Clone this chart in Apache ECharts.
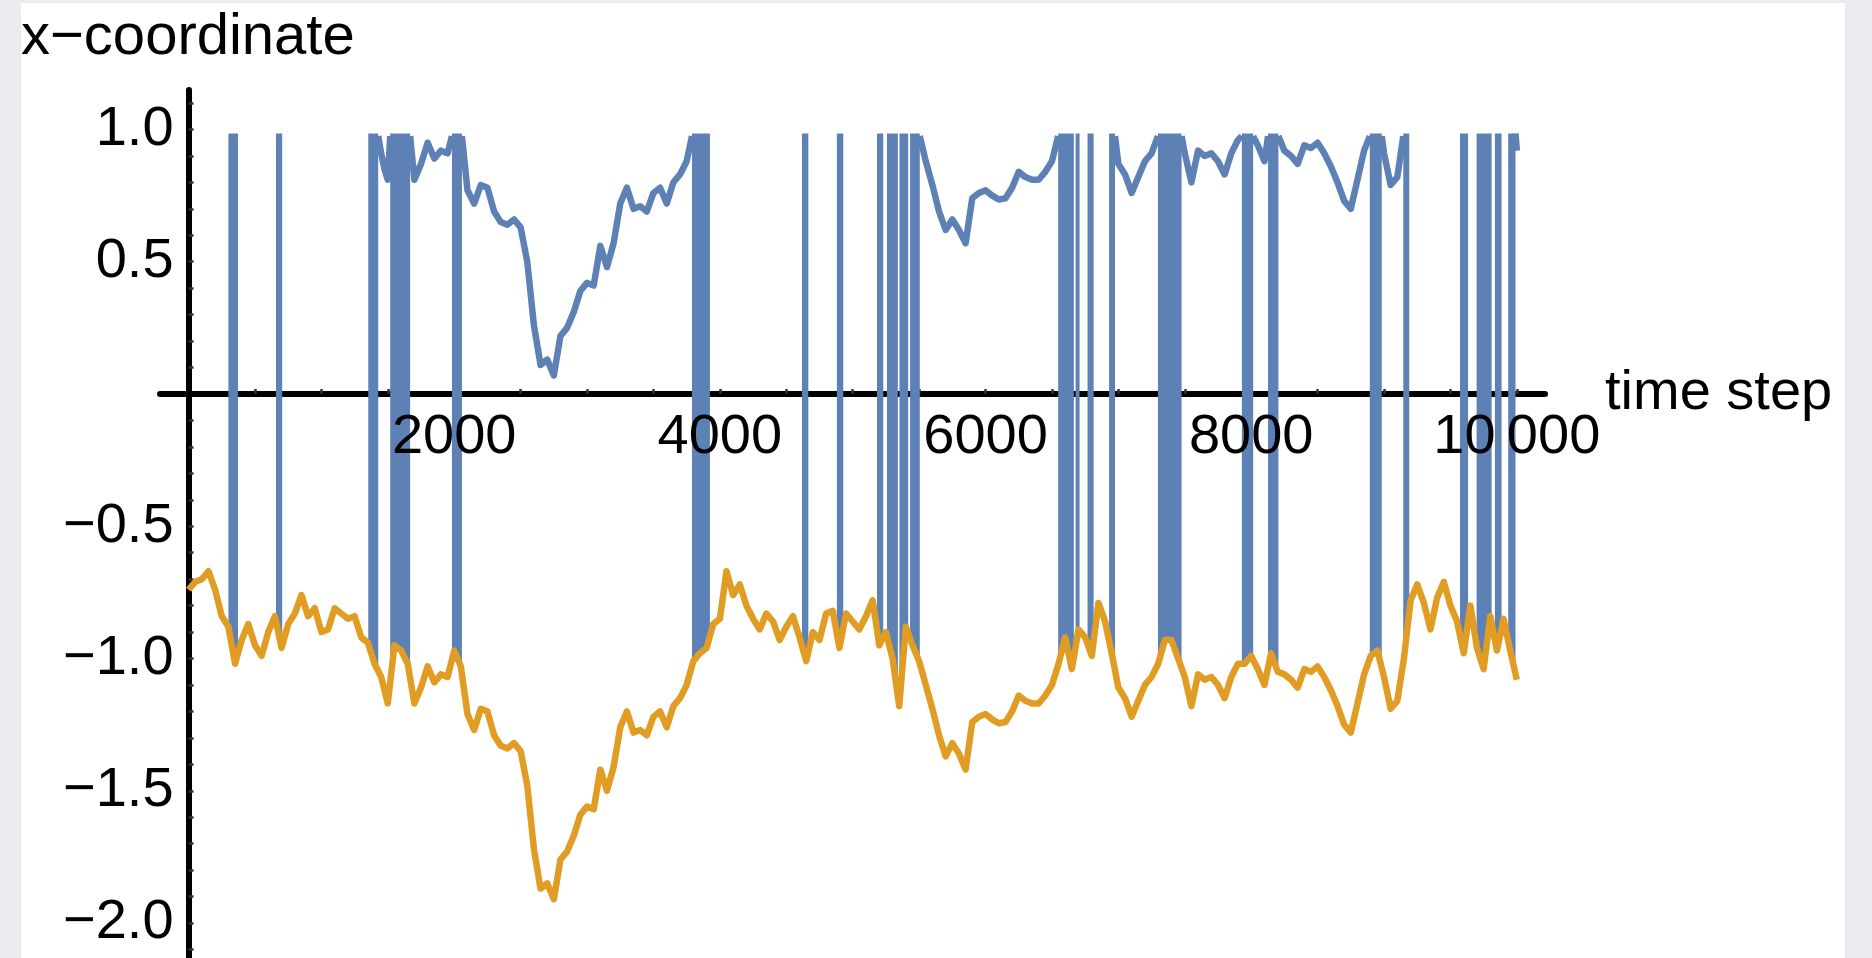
<!DOCTYPE html>
<html>
<head>
<meta charset="utf-8">
<script src="https://cdn.jsdelivr.net/npm/echarts@6/dist/echarts.min.js"></script>
<style>
  html, body { margin: 0; padding: 0; width: 1872px; height: 958px; overflow: hidden; background: #e9ebee; }
  #sheet { position: absolute; left: 21px; top: 3px; width: 1824px; height: 955px; background: #ffffff; }
  #chart { position: absolute; left: 0; top: 0; width: 1872px; height: 958px; }
</style>
</head>
<body>
<div id="sheet"></div>
<div id="chart"></div>
<script>
// Trajectory sampled every STEP time steps (t = 0, 50, ..., 10000)
const STEP = 50;

// Unwrapped x-coordinate (orange), one row per 500 steps
const orangeX = [
  -0.74, -0.71, -0.70, -0.67, -0.74, -0.84, -0.88, -1.02, -0.93, -0.87,
  -0.95, -0.99, -0.90, -0.84, -0.96, -0.87, -0.83, -0.76, -0.84, -0.81,
  -0.90, -0.89, -0.81, -0.83, -0.85, -0.84, -0.92, -0.94, -1.02, -1.07,
  -1.17, -0.95, -0.97, -1.02, -1.17, -1.11, -1.03, -1.09, -1.06, -1.07,
  -0.97, -1.03, -1.21, -1.27, -1.19, -1.20, -1.29, -1.33, -1.34, -1.32,
  -1.35, -1.48, -1.72, -1.87, -1.85, -1.91, -1.76, -1.73, -1.67, -1.59,
  -1.56, -1.57, -1.42, -1.50, -1.41, -1.26, -1.20, -1.28, -1.27, -1.29,
  -1.22, -1.20, -1.26, -1.18, -1.15, -1.10, -1.01, -0.98, -0.96, -0.87,
  -0.85, -0.67, -0.76, -0.72, -0.80, -0.85, -0.89, -0.83, -0.86, -0.93,
  -0.88, -0.84, -0.92, -1.01, -0.90, -0.93, -0.83, -0.82, -0.96, -0.83,
  -0.86, -0.89, -0.84, -0.78, -0.95, -0.90, -1.00, -1.18, -0.88, -0.95,
  -1.01, -1.10, -1.19, -1.29, -1.37, -1.32, -1.36, -1.42, -1.24, -1.22,
  -1.21, -1.23, -1.245, -1.24, -1.20, -1.14, -1.16, -1.17, -1.17, -1.14,
  -1.10, -1.02, -0.92, -1.04, -0.89, -0.92, -0.99, -0.79, -0.86, -0.98,
  -1.11, -1.15, -1.22, -1.16, -1.10, -1.07, -1.02, -0.93, -0.93, -1.00,
  -1.07, -1.18, -1.06, -1.08, -1.07, -1.10, -1.15, -1.07, -1.02, -1.02,
  -0.99, -1.04, -1.10, -0.98, -1.05, -1.06, -1.08, -1.11, -1.04, -1.05,
  -1.03, -1.07, -1.12, -1.18, -1.25, -1.28, -1.17, -1.06, -0.99, -0.97,
  -1.07, -1.19, -1.16, -1.00, -0.78, -0.72, -0.79, -0.89, -0.77, -0.71,
  -0.80, -0.86, -0.98, -0.80, -0.96, -1.04, -0.84, -0.97, -0.85, -0.97,
  -1.08
];

// Wrapped x-coordinate (blue) while it sits near the upper edge: [t, x] runs
const blueUpper = [
  [[1428, 0.975], [1450, 0.91], [1475, 0.85], [1500, 0.81], [1518, 0.975]],
  [[1668, 0.975], [1700, 0.81], [1750, 0.87], [1800, 0.95], [1850, 0.89], [1900, 0.92], [1950, 0.91], [1983, 0.975]],
  [[2058, 0.975], [2100, 0.77], [2150, 0.72], [2200, 0.79], [2250, 0.78], [2300, 0.69], [2350, 0.65], [2400, 0.64],
   [2450, 0.66], [2500, 0.63], [2550, 0.50], [2600, 0.26], [2650, 0.11], [2700, 0.13], [2750, 0.07], [2800, 0.22],
   [2850, 0.25], [2900, 0.31], [2950, 0.39], [3000, 0.42], [3050, 0.41], [3100, 0.56], [3150, 0.48], [3200, 0.57],
   [3250, 0.72], [3300, 0.78], [3350, 0.70], [3400, 0.71], [3450, 0.69], [3500, 0.76], [3550, 0.78], [3600, 0.72],
   [3650, 0.80], [3700, 0.83], [3750, 0.88], [3790, 0.975]],
  [[5505, 0.975], [5550, 0.88], [5600, 0.79], [5650, 0.69], [5700, 0.62], [5750, 0.66], [5800, 0.62], [5850, 0.57],
   [5900, 0.74], [5950, 0.76], [6000, 0.77], [6050, 0.75], [6100, 0.735], [6150, 0.74], [6200, 0.78], [6250, 0.84],
   [6300, 0.82], [6350, 0.81], [6400, 0.81], [6450, 0.84], [6500, 0.88], [6547, 0.975]],
  [[6975, 0.975], [7000, 0.87], [7050, 0.83], [7100, 0.76], [7150, 0.82], [7200, 0.88], [7250, 0.91], [7298, 0.975]],
  [[7476, 0.975], [7500, 0.91], [7550, 0.80], [7600, 0.92], [7650, 0.90], [7700, 0.91], [7750, 0.88], [7800, 0.83],
   [7850, 0.91], [7900, 0.96], [7930, 0.975]],
  [[8015, 0.975], [8050, 0.94], [8100, 0.88], [8127, 0.975]],
  [[8205, 0.975], [8250, 0.92], [8300, 0.90], [8350, 0.87], [8400, 0.94], [8450, 0.93], [8500, 0.95], [8550, 0.91],
   [8600, 0.86], [8650, 0.80], [8700, 0.73], [8750, 0.70], [8800, 0.81], [8850, 0.92], [8893, 0.975]],
  [[8983, 0.975], [9000, 0.91], [9050, 0.79], [9100, 0.82], [9145, 0.975]],
  [[9990, 0.985], [10000, 0.92]]
];

// Intervals [tStart, tEnd] in which the blue coordinate flips across the boundary
const blueBands = [
  [300, 372], [658, 705], [1353, 1428], [1518, 1668], [1983, 2058],
  [3790, 3925], [4618, 4666], [4881, 4929], [5183, 5230], [5258, 5340], [5352, 5418], [5432, 5505],
  [6547, 6665], [6678, 6708], [6768, 6814], [6930, 6975], [7298, 7476], [7930, 8015], [8127, 8205],
  [8893, 8983], [9145, 9190], [9572, 9633], [9697, 9810], [9835, 9885], [9935, 9990]
];
const bandTop = 0.985;

const xLabelValues = [2000, 4000, 6000, 8000, 10000];
const yLabelValues = [-2, -1.5, -1, -0.5, 0.5, 1];

const BLUE = '#5E81B5';
const ORANGE = '#E19C24';
const FONT_FAMILY = '"Liberation Sans", Arial, Helvetica, sans-serif';
const LABEL_FONT = '56px ' + FONT_FAMILY;

const xTickValues = [];
for (let t = 500; t <= 10000; t += 500) xTickValues.push(t);
const yTickValues = [];
for (let k = -21; k <= 11; k++) if (k !== 0) yTickValues.push(k / 10);

const orangeData = orangeX.map((v, i) => [i * STEP, v]);

const blueData = [];
blueUpper.forEach((run, j) => {
  if (j > 0) blueData.push([run[0][0], null]);
  run.forEach(p => blueData.push(p));
});

const fmtX = v => (v === 10000 ? '10\u2009000' : String(v));
const fmtY = v => (v < 0 ? '\u2212' : '') + Math.abs(v).toFixed(1);

// value of the orange line between samples, as the line series draws it
function orangeAt(t) {
  const i = Math.max(0, Math.min(Math.floor(t / STEP), orangeX.length - 2));
  const f = (t - i * STEP) / STEP;
  return orangeX[i] + (orangeX[i + 1] - orangeX[i]) * f;
}

const chart = echarts.init(document.getElementById('chart'), null, { renderer: 'canvas' });

chart.setOption({
  animation: false,
  backgroundColor: 'transparent',
  title: {
    text: 'x\u2212coordinate',
    left: 21,
    top: 9,
    padding: 0,
    textStyle: { fontFamily: FONT_FAMILY, fontSize: 58, fontWeight: 'normal', color: '#000' }
  },
  grid: { left: 160, top: 90, width: 1385, height: 868, containLabel: false, outerBoundsMode: 'none' },
  xAxis: {
    type: 'value',
    min: -215,
    max: 10212,
    name: 'time step',
    nameLocation: 'end',
    nameGap: 60,
    nameTextStyle: { fontFamily: FONT_FAMILY, fontSize: 56, color: '#000' },
    axisLine: { show: true, onZero: true, lineStyle: { color: '#000', width: 6 } },
    axisTick: { show: true, inside: true, length: 5, customValues: xTickValues, lineStyle: { color: '#333', width: 2.5 } },
    axisLabel: { show: false },
    splitLine: { show: false }
  },
  yAxis: {
    type: 'value',
    min: -2.1323,
    max: 1.1493,
    axisLine: { show: true, onZero: true, lineStyle: { color: '#000', width: 6 } },
    axisTick: { show: true, inside: true, length: 5, customValues: yTickValues, lineStyle: { color: '#333', width: 2.5 } },
    axisLabel: { show: false },
    splitLine: { show: false }
  },
  series: [
    {
      name: 'flips',
      type: 'custom',
      z: 2,
      clip: true,
      silent: true,
      encode: { x: [0, 1], y: 2 },
      data: blueBands.map(b => [b[0], b[1], bandTop]),
      renderItem(params, api) {
        const ta = api.value(0), tb = api.value(1), top = api.value(2);
        const pts = [api.coord([ta, top]), api.coord([tb, top]), api.coord([tb, orangeAt(tb)])];
        for (let i = Math.floor(tb / STEP); i * STEP > ta; i--) {
          if (i * STEP < tb) pts.push(api.coord([i * STEP, orangeX[i]]));
        }
        pts.push(api.coord([ta, orangeAt(ta)]));
        return { type: 'polygon', shape: { points: pts }, style: { fill: BLUE } };
      }
    },
    {
      name: 'wrapped',
      type: 'line',
      z: 2,
      silent: true,
      data: blueData,
      showSymbol: false,
      connectNulls: false,
      lineStyle: { color: BLUE, width: 6.5, join: 'round' }
    },
    {
      name: 'unwrapped',
      type: 'line',
      z: 3,
      silent: true,
      data: orangeData,
      showSymbol: false,
      lineStyle: { color: ORANGE, width: 6.5, join: 'round' }
    },
    {
      // tick labels below the time axis, placed at the axis crossing
      name: 'time labels',
      type: 'custom',
      z: 6,
      clip: false,
      silent: true,
      encode: { x: 0, y: 1 },
      data: xLabelValues.map(v => [v, 0]),
      renderItem(params, api) {
        const v = api.value(0);
        const p = api.coord([v, 0]);
        return {
          type: 'text', x: p[0], y: p[1] + 16,
          style: { text: fmtX(v), font: LABEL_FONT, fill: '#000', align: 'center', verticalAlign: 'top' }
        };
      }
    },
    {
      // tick labels left of the vertical axis at t = 0
      name: 'coordinate labels',
      type: 'custom',
      z: 6,
      clip: false,
      silent: true,
      encode: { x: 0, y: 1 },
      data: yLabelValues.map(v => [0, v]),
      renderItem(params, api) {
        const v = api.value(1);
        const p = api.coord([0, v]);
        return {
          type: 'text', x: p[0] - 15, y: p[1],
          style: { text: fmtY(v), font: LABEL_FONT, fill: '#000', align: 'right', verticalAlign: 'middle' }
        };
      }
    }
  ]
});
</script>
</body>
</html>
